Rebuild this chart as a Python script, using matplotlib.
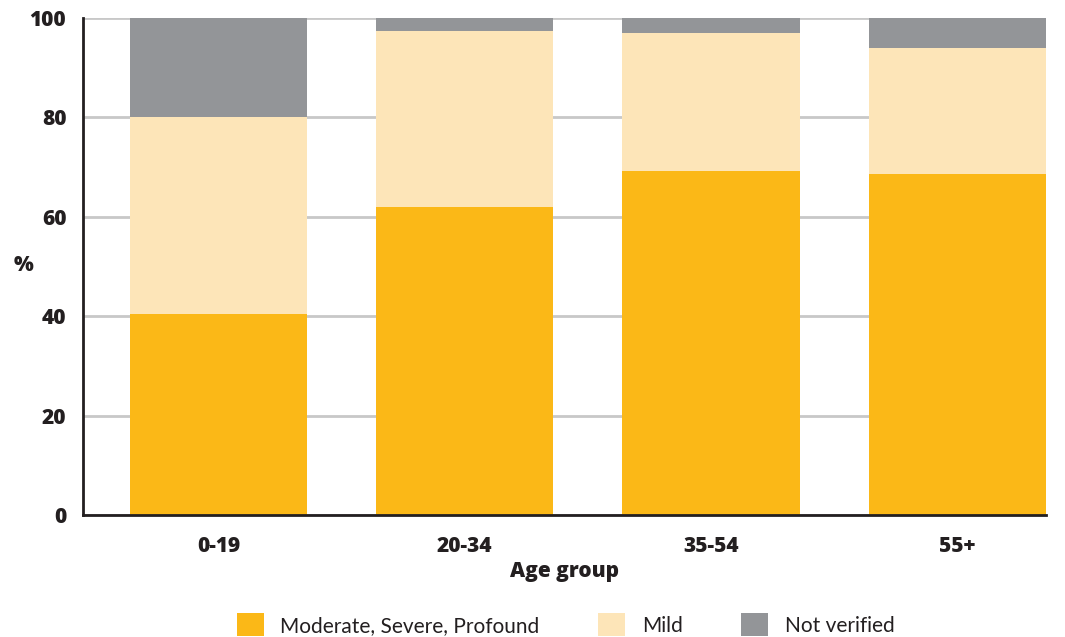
import numpy as np
import matplotlib.pyplot as plt
from matplotlib.patches import Patch

groups = ['0-19', '20-34', '35-54', '55+']
moderate = [40.4, 62.0, 69.2, 68.6]
mild = [39.7, 35.4, 27.8, 25.4]
not_verified = [19.9, 2.6, 3.0, 6.0]

series_names = ['Moderate, Severe, Profound', 'Mild', 'Not verified']
colors = ['#FBB817', '#FDE5B8', '#939598']

plt.rcParams['font.family'] = ['Lato', 'DejaVu Sans']
bold_font = ['Open Sans', 'DejaVu Sans']
dark = '#231F20'

fig = plt.figure(figsize=(10.65, 6.37), dpi=100)
ax = fig.add_axes([0.0779, 0.1915, 0.9041, 0.7802])

x = np.arange(len(groups))
w = 0.72
bottom = np.zeros(len(groups))
for vals, c in zip([moderate, mild, not_verified], colors):
    ax.bar(x, vals, w, bottom=bottom, color=c, zorder=3)
    bottom += np.array(vals)

ax.set_xlim(-0.551, 3.36)
ax.set_ylim(0, 100)
ax.set_yticks([0, 20, 40, 60, 80, 100])
ax.set_xticks(x)
ax.set_xticklabels(groups)
ax.tick_params(axis='y', length=0, pad=12)
ax.tick_params(axis='x', length=0, pad=15)
for lab in ax.get_yticklabels() + ax.get_xticklabels():
    lab.set_fontfamily(bold_font)
    lab.set_fontweight('heavy')
    lab.set_fontsize(15)
    lab.set_color(dark)

ax.grid(axis='y', color='#C8C8C8', linewidth=2, zorder=0)
ax.set_axisbelow(True)
for s in ['top', 'right']:
    ax.spines[s].set_visible(False)
for s in ['left', 'bottom']:
    ax.spines[s].set_color(dark)
    ax.spines[s].set_linewidth(2)
    ax.spines[s].set_zorder(5)

ax.set_xlabel('Age group', fontsize=15, fontweight='heavy', family=bold_font,
              color=dark, labelpad=3)
ax.set_ylabel('%', fontsize=15, fontweight='heavy', family=bold_font,
              color=dark, rotation=0)
ax.yaxis.set_label_coords(-0.062, 0.48)

handles = [Patch(facecolor=c, edgecolor='none') for c in colors]
fig.legend(handles, series_names, loc='lower center', bbox_to_anchor=(0.531, -0.028),
           ncol=3, frameon=False, fontsize=15, handlelength=1.3, handleheight=1.3,
           handletextpad=0.8, columnspacing=2.8, labelcolor=dark)

fig.savefig('out.png', dpi=100)
